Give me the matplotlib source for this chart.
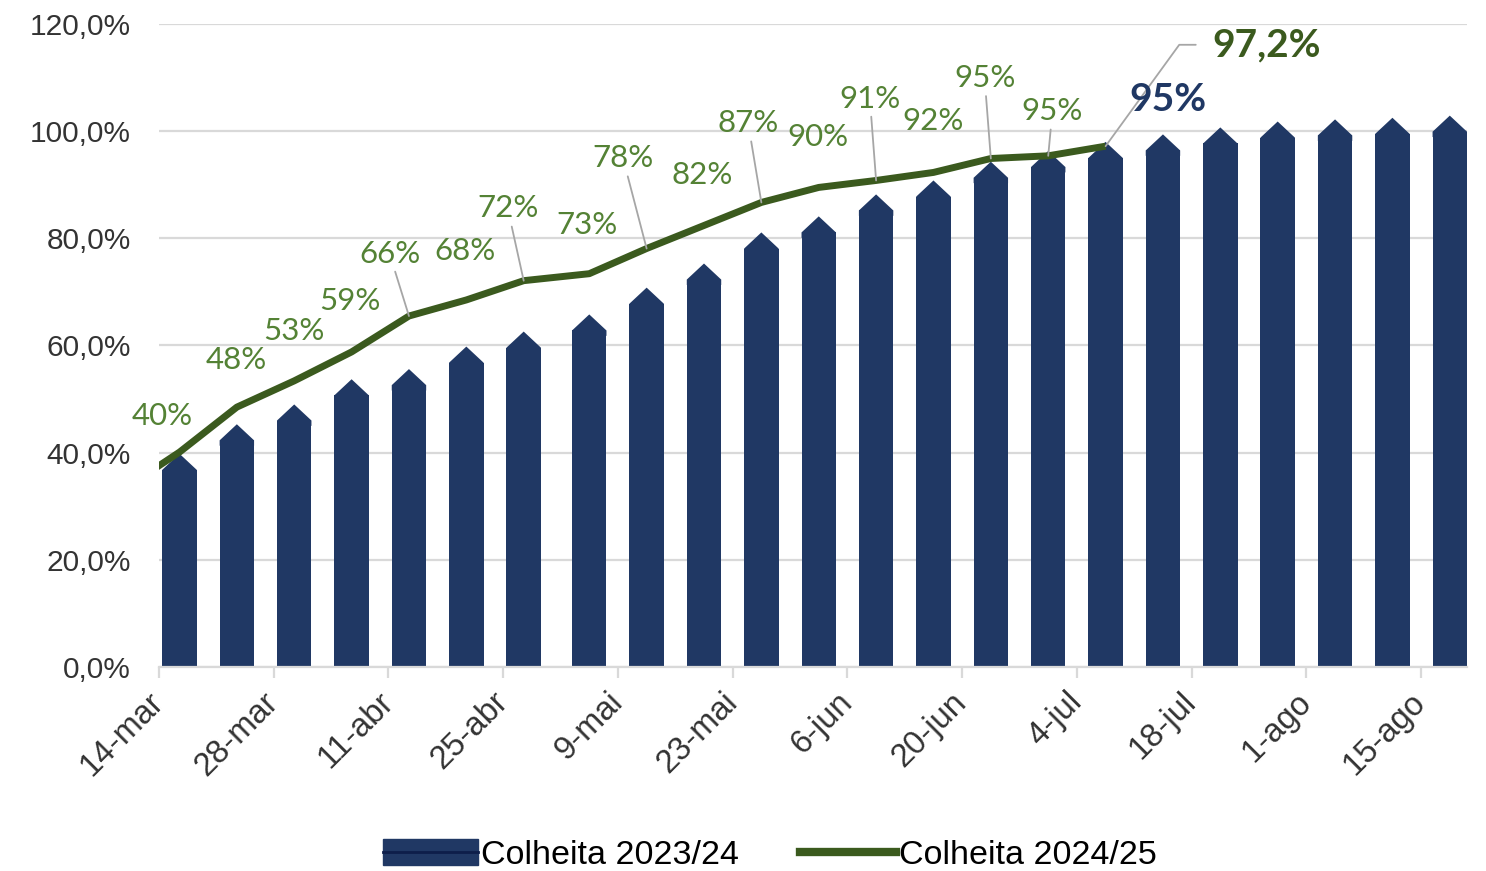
import numpy as np
import pandas as pd
import matplotlib
matplotlib.use("Agg")
import matplotlib.pyplot as plt
from matplotlib.patches import Patch
from matplotlib.lines import Line2D
from matplotlib.ticker import FuncFormatter

# --- data ---
start = pd.Timestamp("2024-03-14")

# Colheita 2023/24 (bars), % harvested
bar_dates = ["2024-03-16", "2024-03-23", "2024-03-30", "2024-04-06", "2024-04-13",
             "2024-04-20", "2024-04-27", "2024-05-05", "2024-05-12", "2024-05-19",
             "2024-05-26", "2024-06-02", "2024-06-09", "2024-06-16", "2024-06-23",
             "2024-06-30", "2024-07-07", "2024-07-14", "2024-07-21", "2024-07-28",
             "2024-08-04", "2024-08-11", "2024-08-18"]
bar_values = [36.8, 42.3, 46.0, 50.7, 52.6, 56.8, 59.6, 62.8, 67.8, 72.3, 78.1, 81.1,
              85.2, 87.8, 91.3, 93.3, 95.0, 96.4, 97.7, 98.8, 99.2, 99.5, 99.9]

# Colheita 2024/25 (line); the first point sits before the axis start
line_dates = ["2024-03-09"] + bar_dates[:17]
line_values = [33.0, 40.1, 48.5, 53.4, 58.8, 65.5, 68.5, 72.1, 73.4, 78.1, 82.4,
               86.7, 89.5, 90.8, 92.3, 94.9, 95.4, 97.2]
line_labels = ["40%", "48%", "53%", "59%", "66%", "68%", "72%", "73%", "78%", "82%",
               "87%", "90%", "91%", "92%", "95%", "95%", "97,2%"]

tick_labels = ["14-mar", "28-mar", "11-abr", "25-abr", "9-mai", "23-mai", "6-jun",
               "20-jun", "4-jul", "18-jul", "1-ago", "15-ago"]

# label placement (offset in points from the point) and leader line flag
label_offsets = [(-12.5, 26), (-0.7, 34), (0, 36), (-1, 37), (-14, 45), (-1, 35),
                 (-11.5, 52), (-1.5, 35), (-17, 65), (-1.5, 36), (-9.5, 57), (-0.5, 36),
                 (-4.5, 59), (0, 37), (-4.5, 58), (3, 32), (116, 73)]
leaders = [False, False, False, False, True, False, True, False, True, False, True,
           False, True, False, True, True, True]

BLUE = "#203864"
GREEN_LINE = "#3B5A1E"
GREEN_TXT = "#548235"
GRID = "#D9D9D9"
GREY_TXT = "#333333"


def to_days(dates):
    return np.array([(pd.Timestamp(d) - start).days for d in dates]) + 0.5


if __name__ == "__main__":
    xb = to_days(bar_dates)
    xl = to_days(line_dates)
    vb = np.array(bar_values)

    fig = plt.figure(figsize=(14.86, 8.71), dpi=100)
    ax = fig.add_axes([159 / 1486, 1 - 667 / 871, (1467 - 159) / 1486, (667 - 24) / 871])

    # bars with pointed caps (cap overlaps the body a little to avoid a seam)
    width = 4.2
    cap = 3.0
    ax.bar(xb, vb, width=width, color=BLUE, zorder=2)
    for x, v in zip(xb, vb):
        ax.fill([x - width / 2, x - width / 2, x, x + width / 2, x + width / 2],
                [v - 1, v, v + cap, v, v - 1], color=BLUE, lw=0, zorder=2)

    ax.plot(xl, line_values, color=GREEN_LINE, lw=5, solid_joinstyle="round",
            solid_capstyle="butt", zorder=3)

    # line data labels
    for i, lab in enumerate(line_labels):
        x, y = xl[i + 1], line_values[i + 1]
        last = i == len(line_labels) - 1
        props = None
        if leaders[i]:
            props = dict(arrowstyle="-", color="#A6A6A6", lw=1.3, shrinkA=1, shrinkB=0)
            if last:
                props.update(connectionstyle="angle,angleA=0,angleB=54,rad=0",
                             relpos=(0, 0.5), shrinkA=10)
        ax.annotate(lab, (x, y), xytext=label_offsets[i], textcoords="offset points",
                    ha="center", va="center", color=GREEN_TXT if not last else GREEN_LINE,
                    fontsize=28 if last else 22.5, fontweight="bold" if last else "normal",
                    family="Lato", arrowprops=props, zorder=4)

    # bar label for the matching week
    ax.annotate("95%", (xb[16], vb[16]), xytext=(45, 42), textcoords="offset points",
                ha="center", va="center", color=BLUE, fontsize=28, fontweight="bold",
                family="Lato", zorder=4)

    # axes
    ax.set_xlim(0, 159.6)
    ax.set_ylim(0, 120)
    ax.set_yticks(np.arange(0, 121, 20))
    ax.yaxis.set_major_formatter(FuncFormatter(lambda v, p: f"{v:.1f}%".replace(".", ",")))
    ax.set_xticks(np.arange(0, 155, 14))
    ax.set_xticklabels(tick_labels, rotation=45, ha="right", va="center",
                       rotation_mode="anchor")
    ax.grid(axis="y", color=GRID, lw=1.6, zorder=0)
    ax.set_axisbelow(True)
    for s in ["left", "right", "top"]:
        ax.spines[s].set_visible(False)
    ax.spines["bottom"].set_color(GRID)
    ax.spines["bottom"].set_linewidth(1.6)
    ax.tick_params(axis="y", length=0, pad=20, labelsize=21.5, labelcolor=GREY_TXT)
    ax.tick_params(axis="x", length=8, width=1.6, color=GRID, pad=14, labelsize=23.5,
                   labelcolor=GREY_TXT)
    for t in ax.get_xticklabels() + ax.get_yticklabels():
        t.set_family("Liberation Sans")

    handles = [(Patch(facecolor=BLUE, edgecolor=BLUE), Line2D([], [], color="#0E1E4A", lw=2)),
               Line2D([], [], color=GREEN_LINE, lw=6)]
    fig.legend(handles, ["Colheita 2023/24", "Colheita 2024/25"], loc="center",
               bbox_to_anchor=(0.518, 0.018), ncol=2, frameon=False,
               prop={"family": "Liberation Sans", "size": 24.5}, handlelength=2.8,
               handleheight=0.8, handletextpad=0.1, columnspacing=1.8)

    fig.savefig("out.png", dpi=100)
